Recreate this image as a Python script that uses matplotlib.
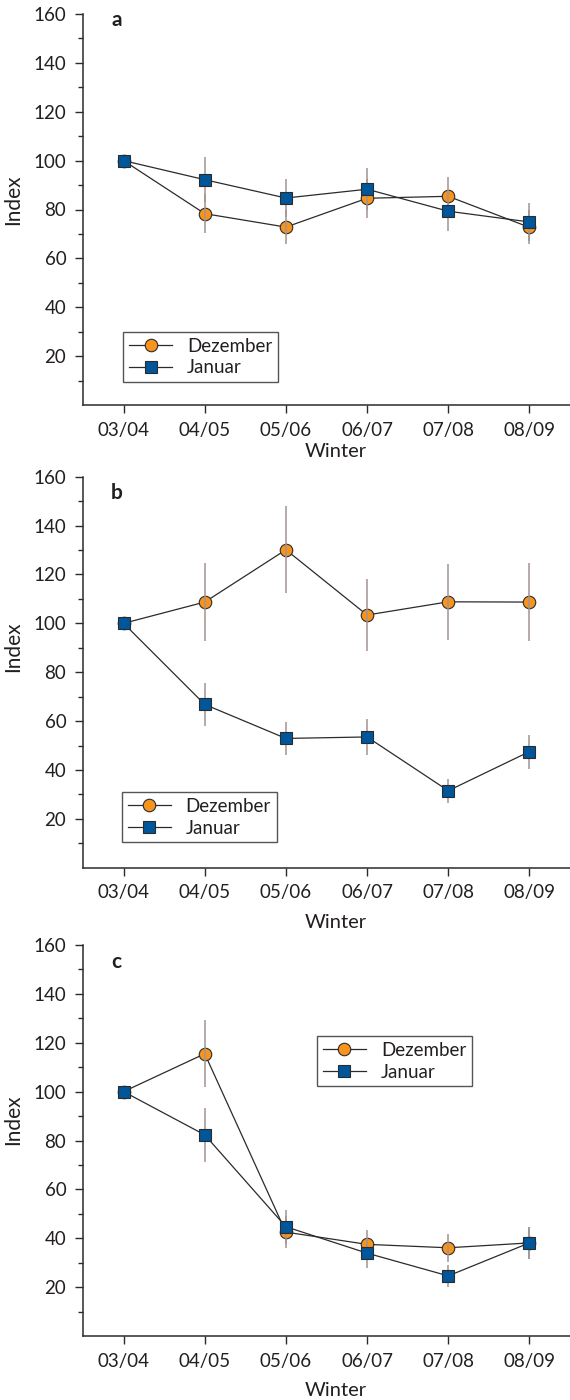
import matplotlib
matplotlib.use("Agg")
import matplotlib.pyplot as plt
from matplotlib.ticker import FixedLocator

plt.rcParams['font.family'] = ['Lato', 'DejaVu Sans']

winters = ["03/04", "04/05", "05/06", "06/07", "07/08", "08/09"]
series_names = ["Dezember", "Januar"]

# Panel a
a_dez = [100, 78.3, 72.8, 84.6, 85.4, 72.7]
a_dez_err = [0, 8.0, 7.0, 8.0, 8.0, 7.0]
a_jan = [100, 92.2, 84.7, 88.3, 79.3, 74.9]
a_jan_err = [0, 9.2, 7.8, 8.6, 8.0, 7.8]

# Panel b
b_dez = [100, 108.7, 130.1, 103.4, 108.8, 108.7]
b_dez_err = [0, 15.8, 17.8, 14.6, 15.6, 15.8]
b_jan = [100, 66.8, 52.9, 53.5, 31.5, 47.5]
b_jan_err = [0, 8.8, 6.9, 7.2, 5.0, 7.0]

# Panel c
c_dez = [100, 115.5, 42.5, 37.5, 36.1, 38.1]
c_dez_err = [0, 13.8, 6.5, 5.7, 5.7, 6.6]
c_jan = [100, 82.3, 44.7, 33.9, 24.6, 38.1]
c_jan_err = [0, 11.0, 7.0, 6.0, 4.5, 6.6]

panel_labels = ["a", "b", "c"]

ORANGE = "#F7941D"
BLUE = "#00569A"
EDGE = "#2b2b2b"
ERRC = "#a39391"
TXT = "#231f20"

fig = plt.figure(figsize=(5.7, 14), dpi=100)
left = 83 / 570
width = 1 - left
H = 391 / 1400
bottoms = [1 - 405 / 1400, 1 - 867.7 / 1400, 1 - 1336 / 1400]

data = [
    (a_dez, a_dez_err, a_jan, a_jan_err),
    (b_dez, b_dez_err, b_jan, b_jan_err),
    (c_dez, c_dez_err, c_jan, c_jan_err),
]
legend_pos = [(0.0828, 0.0588), (0.0800, 0.065), (0.4805, 0.639)]
ylabel_y = [0.525, 0.565, 0.552]
xlabel_y = [-0.097, -0.118, -0.118]
letter_y = [0.985, 0.959, 0.957]

x = list(range(len(winters)))

for i, (dez, dez_err, jan, jan_err) in enumerate(data):
    ax = fig.add_axes([left, bottoms[i], width, H])
    ax.plot(x, dez, color=EDGE, lw=0.9, marker='o', ms=9, mfc=ORANGE,
            mec=EDGE, mew=0.8, zorder=3, label=series_names[0])
    ax.errorbar(x, dez, yerr=dez_err, fmt='none', ecolor=ERRC, elinewidth=1.1,
                capsize=0, zorder=3.5)
    ax.errorbar(x, jan, yerr=jan_err, fmt='none', ecolor=ERRC, elinewidth=1.1,
                capsize=0, zorder=2)
    ax.plot(x, jan, color=EDGE, lw=0.9, marker='s', ms=8.4, mfc=BLUE,
            mec=EDGE, mew=0.8, zorder=4, label=series_names[1])

    ax.set_xlim(-0.5, 5.5)
    ax.set_ylim(0, 160)
    ax.set_xticks(x)
    ax.set_xticklabels(winters)
    ax.yaxis.set_major_locator(FixedLocator(list(range(20, 161, 20))))
    ax.yaxis.set_minor_locator(FixedLocator(list(range(10, 160, 20))))
    for s in ['top', 'right']:
        ax.spines[s].set_visible(False)
    for s in ['left', 'bottom']:
        ax.spines[s].set_linewidth(1.1)
        ax.spines[s].set_color(EDGE)
    ax.tick_params(axis='both', which='major', length=6, width=1.0, color=EDGE,
                   labelsize=13.5, labelcolor=TXT, pad=6)
    ax.tick_params(axis='y', which='minor', length=3.6, width=1.0, color=EDGE)

    ax.set_ylabel("Index", fontsize=15, color=TXT)
    ax.yaxis.set_label_coords(-0.122, ylabel_y[i])
    ax.set_xlabel("Winter", fontsize=14.5, color=TXT)
    ax.xaxis.set_label_coords(0.52, xlabel_y[i])

    ax.text(0.0686, letter_y[i], panel_labels[i], transform=ax.transAxes,
            fontsize=15, fontweight='bold', ha='center', va='center', color=TXT)

    leg = ax.legend(loc='lower left', bbox_to_anchor=legend_pos[i],
                    borderaxespad=0, fontsize=13.5, frameon=True, fancybox=False,
                    handlelength=2.3, handletextpad=0.8, borderpad=0.3,
                    labelspacing=0.25)
    leg.get_frame().set_edgecolor(EDGE)
    leg.get_frame().set_linewidth(1.0)
    for t in leg.get_texts():
        t.set_color(TXT)

fig.savefig("out.png", dpi=100)
